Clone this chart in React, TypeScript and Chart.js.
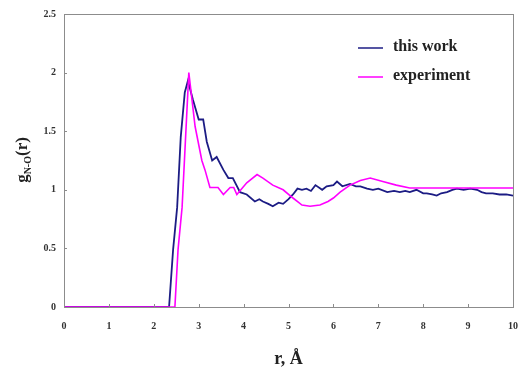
import React, { useEffect, useRef } from "react";
import { Chart, registerables } from "chart.js";

Chart.register(...registerables);

const seriesNames = ["this work", "experiment"];

const workR = [0, 2.34, 2.43, 2.52, 2.6, 2.69, 2.76, 2.87, 3.0, 3.1, 3.18, 3.3, 3.4, 3.55, 3.66, 3.76, 3.92, 4.07, 4.25, 4.35, 4.43, 4.55, 4.65, 4.78, 4.88, 5.0, 5.1, 5.2, 5.3, 5.4, 5.5, 5.6, 5.75, 5.85, 6.0, 6.08, 6.2, 6.37, 6.5, 6.6, 6.75, 6.88, 7.0, 7.2, 7.35, 7.48, 7.6, 7.7, 7.85, 8.0, 8.08, 8.2, 8.3, 8.4, 8.53, 8.65, 8.75, 8.9, 9.05, 9.2, 9.3, 9.4, 9.55, 9.7, 9.85, 10];
const workG = [0, 0, 0.49, 0.85, 1.45, 1.83, 1.93, 1.77, 1.6, 1.6, 1.41, 1.25, 1.28, 1.17, 1.1, 1.1, 0.98, 0.96, 0.9, 0.92, 0.9, 0.88, 0.86, 0.89, 0.88, 0.92, 0.96, 1.01, 1.0, 1.01, 0.99, 1.04, 1.0, 1.03, 1.04, 1.07, 1.03, 1.05, 1.03, 1.03, 1.01, 1.0, 1.01, 0.98, 0.99, 0.98, 0.99, 0.98, 1.0, 0.97, 0.97, 0.96, 0.95, 0.97, 0.98, 1.0, 1.01, 1.0, 1.01, 1.0, 0.98, 0.97, 0.97, 0.96, 0.96, 0.95];

const expR = [0, 2.47, 2.54, 2.63, 2.78, 2.92, 3.07, 3.14, 3.25, 3.43, 3.55, 3.7, 3.78, 3.85, 4.07, 4.3, 4.43, 4.65, 4.88, 5.1, 5.3, 5.48, 5.7, 5.88, 6.0, 6.15, 6.37, 6.6, 6.82, 7.1, 7.4, 7.7, 10];
const expG = [0, 0, 0.49, 0.85, 2.0, 1.54, 1.25, 1.17, 1.02, 1.02, 0.96, 1.02, 1.02, 0.96, 1.06, 1.13, 1.1, 1.04, 1.0, 0.93, 0.87, 0.86, 0.87, 0.9, 0.93, 0.98, 1.04, 1.08, 1.1, 1.07, 1.04, 1.015, 1.015];

const xTicks = [0, 1, 2, 3, 4, 5, 6, 7, 8, 9, 10];
const yTickLabels = ["0", "0.5", "1", "1.5", "2", "2.5"];

const BLUE = "#1c1c84";
const MAGENTA = "#ff00ff";
const FRAME = "#8c8c8c";
const SERIF = "'Liberation Serif', 'Times New Roman', serif";

const decorPlugin = {
  id: "decor",
  afterDraw(chart: any) {
    const { ctx, chartArea } = chart;
    const { left, right, top, bottom } = chartArea;
    const xs = chart.scales.x;
    const ys = chart.scales.y;
    ctx.save();
    // frame
    ctx.strokeStyle = FRAME;
    ctx.lineWidth = 1;
    ctx.strokeRect(Math.round(left) + 0.5, Math.round(top) + 0.5, Math.round(right - left), Math.round(bottom - top));
    // inner tick marks
    ctx.beginPath();
    xTicks.forEach((v) => {
      const px = Math.round(xs.getPixelForValue(v)) + 0.5;
      ctx.moveTo(px, bottom);
      ctx.lineTo(px, bottom - 3);
    });
    yTickLabels.forEach((l) => {
      const py = Math.round(ys.getPixelForValue(parseFloat(l))) + 0.5;
      ctx.moveTo(left, py);
      ctx.lineTo(left + 3, py);
    });
    ctx.stroke();

    // x title
    ctx.fillStyle = "#222";
    ctx.font = `bold 18px ${SERIF}`;
    ctx.textAlign = "center";
    ctx.textBaseline = "alphabetic";
    ctx.fillText("r, Å", (left + right) / 2, 364);

    // y title with subscript
    ctx.translate(27, 160);
    ctx.rotate(-Math.PI / 2);
    const big = `bold 17px ${SERIF}`;
    const small = `bold 10px ${SERIF}`;
    ctx.font = big;
    const wg = ctx.measureText("g").width;
    const wr = ctx.measureText("(r)").width;
    ctx.font = small;
    const ws = ctx.measureText("N-O").width;
    const total = wg + ws + wr;
    let x0 = -total / 2;
    ctx.textAlign = "left";
    ctx.font = big;
    ctx.fillText("g", x0, 0);
    x0 += wg;
    ctx.font = small;
    ctx.fillText("N-O", x0, 4);
    x0 += ws;
    ctx.font = big;
    ctx.fillText("(r)", x0, 0);
    ctx.setTransform(1, 0, 0, 1, 0, 0);

    // legend
    const items = [
      { label: seriesNames[0], color: BLUE, y: 48 },
      { label: seriesNames[1], color: MAGENTA, y: 77 },
    ];
    ctx.font = `bold 16px ${SERIF}`;
    ctx.textAlign = "left";
    ctx.textBaseline = "middle";
    items.forEach((it) => {
      ctx.strokeStyle = it.color;
      ctx.lineWidth = 1.5;
      ctx.beginPath();
      ctx.moveTo(358, it.y);
      ctx.lineTo(383, it.y);
      ctx.stroke();
      ctx.fillStyle = "#222";
      ctx.fillText(it.label, 393, it.y - 1);
    });
    ctx.restore();
  },
};

export default function App() {
  const ref = useRef<HTMLCanvasElement | null>(null);
  useEffect(() => {
    if (!ref.current) return;
    const chart = new Chart(ref.current, {
      type: "line",
      data: {
        datasets: [
          {
            label: seriesNames[0],
            data: workR.map((r, i) => ({ x: r, y: workG[i] })),
            borderColor: BLUE,
            borderWidth: 1.8,
            pointRadius: 0,
            tension: 0,
            order: 1,
          },
          {
            label: seriesNames[1],
            data: expR.map((r, i) => ({ x: r, y: expG[i] })),
            borderColor: MAGENTA,
            borderWidth: 1.6,
            pointRadius: 0,
            tension: 0,
            order: 0,
          },
        ],
      },
      options: {
        animation: false,
        responsive: false,
        maintainAspectRatio: false,
        events: [],
        layout: { padding: { top: 14, right: 9, left: 0, bottom: 0 } },
        plugins: { legend: { display: false }, tooltip: { enabled: false } },
        scales: {
          x: {
            type: "linear",
            min: 0,
            max: 10,
            afterFit: (s: any) => {
              s.height = 61;
              s.paddingLeft = 0;
              s.paddingRight = 0;
            },
            afterBuildTicks: (s: any) => {
              s.ticks = xTicks.map((v) => ({ value: v }));
            },
            grid: { display: false, drawTicks: false },
            border: { display: false },
            ticks: {
              padding: 13,
              color: "#333",
              font: { family: SERIF, weight: "bold", size: 10 },
              callback: (v: any) => String(v),
              maxRotation: 0,
            },
          },
          y: {
            type: "linear",
            min: 0,
            max: 2.5,
            afterFit: (s: any) => {
              s.width = 64;
              s.paddingTop = 0;
              s.paddingBottom = 0;
            },
            afterBuildTicks: (s: any) => {
              s.ticks = yTickLabels.map((l) => ({ value: parseFloat(l) }));
            },
            grid: { display: false, drawTicks: false },
            border: { display: false },
            ticks: {
              padding: 8,
              color: "#333",
              font: { family: SERIF, weight: "bold", size: 10 },
              callback: (v: any) => yTickLabels.find((l) => parseFloat(l) === v) ?? String(v),
            },
          },
        },
      },
      plugins: [decorPlugin],
    });
    return () => chart.destroy();
  }, []);
  return (
    <div style={{ position: "fixed", left: 0, top: 0, width: 522, height: 368, background: "#fff" }}>
      <canvas ref={ref} width={522} height={368} style={{ display: "block" }} />
    </div>
  );
}
